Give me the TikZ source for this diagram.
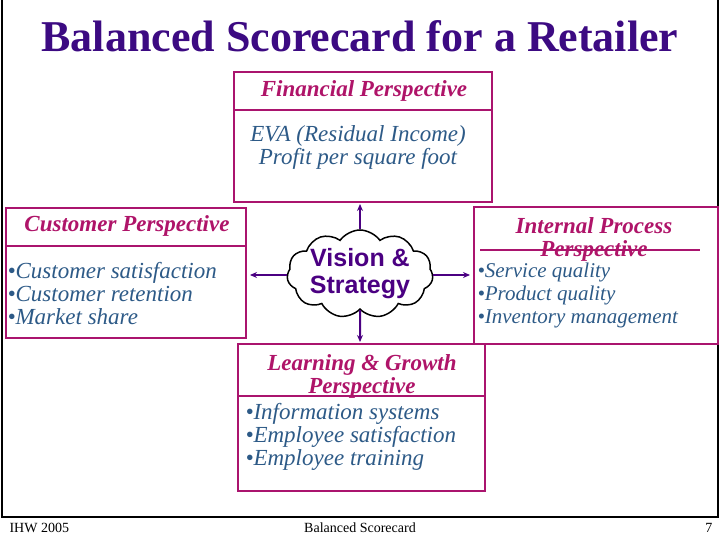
\documentclass[tikz,border=0pt]{standalone}
\usepackage{fontspec}
\setmainfont{Liberation Serif}
\newfontfamily\sansfont{Liberation Sans}
\usetikzlibrary{shapes.symbols, arrows.meta}
\definecolor{titlepurple}{RGB}{60,10,130}
\definecolor{boxmagenta}{RGB}{170,20,110}
\definecolor{headmagenta}{RGB}{175,20,105}
\definecolor{bodyblue}{RGB}{45,90,135}
\definecolor{visionpurple}{RGB}{75,0,130}
\begin{document}
\begin{tikzpicture}[x=1pt, y=-1pt]
			\tikzset{boite/.style={draw=boxmagenta, line width=1.4pt}, entete/.style={font=\fontsize{23}{23}\selectfont\bfseries\itshape, text=headmagenta, align=center}, corps/.style={font=\fontsize{23}{23}\selectfont\itshape, text=bodyblue, align=left}, fleche/.style={-{Stealth[length=7pt,width=6pt]}, draw=visionpurple, line width=2pt}};

			\useasboundingbox (0,0) rectangle (720,540);
			\draw[line width=1.4pt] (2,0) -- (2,517) -- (718,517) -- (718,0);

			\node[font=\fontsize{44}{48}\selectfont\bfseries, text=titlepurple] (titre) at (360,36) {Balanced Scorecard for a Retailer};

			% boites
			\draw[boite] (234,72) rectangle (492,202);
			\draw[boite] (234,110) -- (492,110);
			\draw[boite] (6,208) rectangle (246,338);
			\draw[boite] (6,246) -- (246,246);
			\draw[boite] (474,207) rectangle (718,344);
			\draw[boite] (480,250) -- (700,250);
			\draw[boite] (238,344) rectangle (485,491);
			\draw[boite] (238,396) -- (485,396);

			\node[entete] (fin) at (364,91) {Financial Perspective};
			\node[corps, align=center] (fincorps) at (358,147) {EVA (Residual Income)\\Profit per square foot};
			\node[entete] (cli) at (127,226) {Customer Perspective};
			\node[corps, anchor=west] (clicorps) at (4,294) {\textbullet Customer satisfaction\\\textbullet Customer retention\\\textbullet Market share};
			\node[entete, text depth=0pt] (int) at (594,237) {Internal Process\\Perspective};
			\node[corps, font=\fontsize{21}{23}\selectfont\itshape, anchor=west] (intcorps) at (474,295) {\textbullet Service quality\\\textbullet Product quality\\\textbullet Inventory management};
			\node[entete] (app) at (362,376) {Learning \& Growth\\Perspective};
			\node[corps, anchor=west] (appcorps) at (242,437) {\textbullet Information systems\\\textbullet Employee satisfaction\\\textbullet Employee training};

			% nuage
			\node[cloud, draw=black, line width=1.5pt, fill=white, cloud puffs=11, cloud puff arc=110, aspect=1.7, inner sep=-10pt, minimum width=146pt, minimum height=88pt, font=\sansfont\bfseries\fontsize{25}{27}\selectfont, text=visionpurple, align=center] (vision) at (360,274) {Vision \&\\Strategy};

			\coordinate (haut) at (360,204);
			\coordinate (gauche) at (250,275);
			\coordinate (droite) at (470,275);
			\coordinate (bas) at (360,342);
			\draw[fleche] (vision.north) -- (haut);
			\draw[fleche] (vision.west |- gauche) -- (gauche);
			\draw[fleche] (vision.east |- droite) -- (droite);
			\draw[fleche] (vision.south) -- (bas);

			\node[font=\fontsize{14}{16}\selectfont, anchor=west] (pied1) at (6,528) {IHW 2005};
			\node[font=\fontsize{14}{16}\selectfont] (pied2) at (360,528) {Balanced Scorecard};
			\node[font=\fontsize{14}{16}\selectfont, anchor=east] (pied3) at (716,528) {7};

		\end{tikzpicture}
\end{document}
